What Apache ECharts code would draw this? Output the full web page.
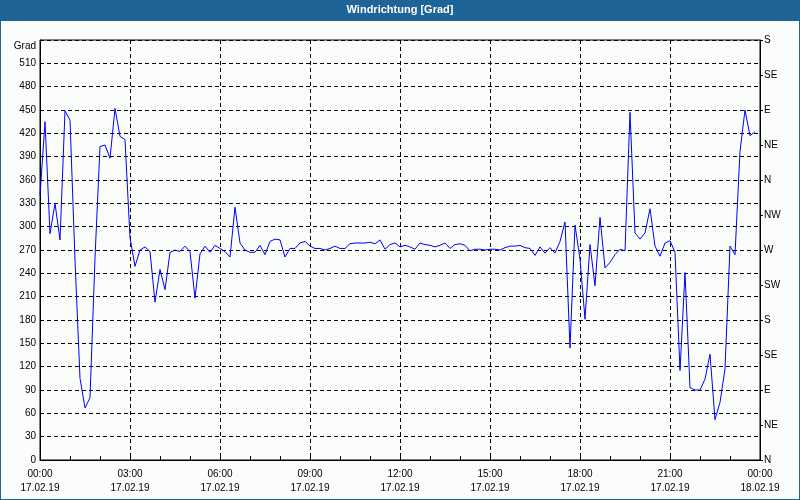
<!DOCTYPE html>
<html>
<head>
<meta charset="utf-8">
<script src="https://cdn.jsdelivr.net/npm/echarts@6/dist/echarts.min.js"></script>
<style>
html,body{margin:0;padding:0;background:#fff;}
#c{width:800px;height:500px;}
</style>
</head>
<body>
<div id="c"></div>
<script>
// Wind direction every 10 minutes, 17.02.19 00:00 .. 23:50
const windDir = [
340,435,291,330,283,449,437,257,105,67,
80,260,403,405,388,452,416,412,286,249,
270,274,268,203,245,219,267,270,268,275,
268,208,265,275,267,276,272,268,261,325,
279,270,267,267,276,264,281,284,283,261,
272,272,279,281,275,272,272,270,272,275,
272,272,278,279,279,279,280,278,283,271,
277,279,274,276,274,271,279,277,276,274,
276,279,272,277,278,276,269,271,271,270,
271,271,270,273,275,275,276,273,272,263,
274,266,273,266,281,306,144,302,258,181,
277,224,312,247,254,264,271,269,447,292,
284,292,323,275,262,279,282,267,115,241,
93,90,90,104,136,52,74,117,275,264,
397,450,417,422
];
const stepMinutes = 10;
const xTickLabels = ['00:00\n17.02.19','03:00\n17.02.19','06:00\n17.02.19','09:00\n17.02.19','12:00\n17.02.19','15:00\n17.02.19','18:00\n17.02.19','21:00\n17.02.19','00:00\n18.02.19'];
const leftTickLabels = ['0','30','60','90','120','150','180','210','240','270','300','330','360','390','420','450','480','510','Grad'];
const dirLabels = ['N','NE','E','SE','S','SW','W','NW','N','NE','E','SE','S'];
const titleText = 'Windrichtung [Grad]';

const FONT = '"Liberation Sans", Arial, sans-serif';
const seriesData = windDir.map((v, i) => [i * stepMinutes / 60, v]);

const chart = echarts.init(document.getElementById('c'), null, {renderer: 'canvas'});
chart.setOption({
  animation: false,
  backgroundColor: '#1e6496',
  graphic: [{
    type: 'rect', silent: true, z: -100,
    shape: {x: 1, y: 21, width: 798, height: 478},
    style: {fill: '#fbfdfb'}
  }],
  title: {
    text: titleText, left: 'center', top: 0, padding: [4, 0, 0, 0],
    textStyle: {color: '#ffffff', fontSize: 11, fontWeight: 'bold', fontFamily: FONT}
  },
  grid: {left: 40, right: 40, top: 40, bottom: 40, show: true, borderColor: '#000', borderWidth: 1, backgroundColor: 'transparent'},
  xAxis: {
    type: 'value', min: 0, max: 24, interval: 3,
    axisLine: {show: true, lineStyle: {color: '#000', width: 1}},
    axisTick: {show: true, inside: true, length: 4, lineStyle: {color: '#000'}},
    minorTick: {show: true, splitNumber: 3, length: 4, lineStyle: {color: '#000'}},
    splitLine: {show: true, lineStyle: {color: '#000', type: [4, 3], width: 1}},
    axisLabel: {
      formatter: v => xTickLabels[Math.round(v / 3)],
      color: '#000', fontSize: 10, lineHeight: 14, margin: 7, fontFamily: FONT,
      showMinLabel: true, showMaxLabel: true
    }
  },
  yAxis: [{
    type: 'value', min: 0, max: 540, interval: 30, position: 'left',
    axisLine: {show: true, lineStyle: {color: '#000'}},
    axisTick: {show: false},
    splitLine: {show: true, lineStyle: {color: '#000', type: [4, 3], width: 1}},
    axisLabel: {
      formatter: v => { const s = leftTickLabels[Math.round(v / 30)]; return v === 540 ? '{g|' + s + '}' : s; },
      color: '#000', fontSize: 10, margin: 4, fontFamily: FONT,
      showMinLabel: true, showMaxLabel: true,
      rich: {g: {padding: [12, 0, 0, 0], fontSize: 10, fontFamily: FONT, color: '#000'}}
    }
  }, {
    type: 'value', min: 0, max: 540, interval: 45, position: 'right',
    axisLine: {show: true, lineStyle: {color: '#000'}},
    axisTick: {show: true, inside: false, length: 3, lineStyle: {color: '#000'}},
    splitLine: {show: false},
    axisLabel: {
      formatter: v => dirLabels[Math.round(v / 45)],
      color: '#000', fontSize: 10, margin: 4, fontFamily: FONT,
      showMinLabel: true, showMaxLabel: true
    }
  }],
  series: [{
    type: 'line', data: seriesData, yAxisIndex: 0,
    showSymbol: false, symbol: 'none',
    lineStyle: {color: '#0000ff', width: 1},
    itemStyle: {color: '#0000ff'}
  }]
});
</script>
</body>
</html>
